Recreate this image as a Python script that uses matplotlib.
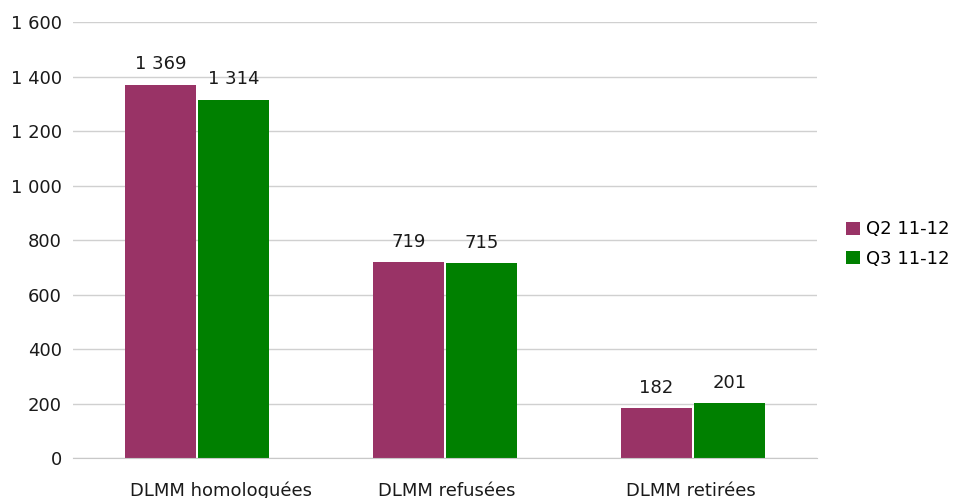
import numpy as np
import matplotlib.pyplot as plt
import matplotlib.transforms as mtransforms

categories = ["DLMM homologuées", "DLMM refusées", "DLMM retirées"]
series_names = ["Q2 11-12", "Q3 11-12"]
q2_values = [1369, 719, 182]
q3_values = [1314, 715, 201]
colors = ["#993366", "#008000"]

plt.rcParams["font.family"] = ["DejaVu Sans"]
FS = 13
TXT = "#1a1a1a"


def fmt(v):
    return f"{int(v):,}".replace(",", " ")


fig = plt.figure(figsize=(9.56, 4.98), dpi=100)
ax = fig.add_axes([0.0764, 0.0803, 0.7782, 0.8755])

x = np.arange(len(categories))
width = 0.284
gap = 0.01
for i, (vals, name, c) in enumerate(zip([q2_values, q3_values], series_names, colors)):
    offset = (i - 0.5) * (width + gap)
    bars = ax.bar(x + offset, vals, width, color=c, label=name, zorder=3)
    for b, v in zip(bars, vals):
        ax.text(b.get_x() + b.get_width() / 2, v + 57, fmt(v),
                ha="center", va="baseline", fontsize=FS, color=TXT)

ax.set_xlim(-0.5, 2.5)
ax.set_ylim(0, 1600)
yt = np.arange(0, 1601, 200)
ax.set_yticks(yt)
ax.set_yticklabels([fmt(v) for v in yt], fontsize=FS, color=TXT)
ax.set_xticks([])
ax.tick_params(axis="y", length=0, pad=8)

# category labels (start near the left bar edge, as in the original)
trans = mtransforms.blended_transform_factory(ax.transData, ax.transAxes)
for xi, cat in zip(x, categories):
    ax.text(xi - 0.27, -0.087, cat, transform=trans, ha="left", va="baseline",
            fontsize=FS, color=TXT)

ax.yaxis.grid(True, color="#d0d0d0", linewidth=1.0, zorder=0)
for s in ["top", "right", "left"]:
    ax.spines[s].set_visible(False)
ax.spines["bottom"].set_color("#c8c8c8")
ax.spines["bottom"].set_zorder(4)

fig.legend(loc="center left", bbox_to_anchor=(0.885, 0.51), frameon=False,
           fontsize=FS, handlelength=0.78, handleheight=0.72, handletextpad=0.35,
           labelspacing=0.62, borderpad=0, borderaxespad=0)

fig.savefig("out.png", dpi=100)
